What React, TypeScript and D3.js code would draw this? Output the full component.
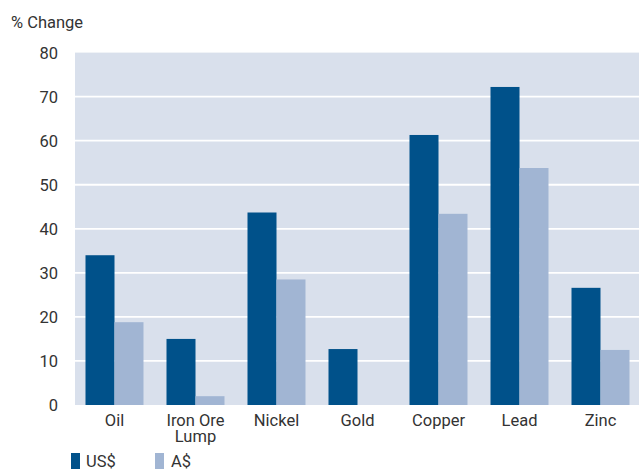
import React from "react";
import * as d3 from "d3";

const categories = ["Oil", "Iron Ore\nLump", "Nickel", "Gold", "Copper", "Lead", "Zinc"];
const usValues = [34.0, 15.0, 43.7, 12.7, 61.3, 72.2, 26.6];
const audValues = [18.8, 2.0, 28.5, 0, 43.4, 53.8, 12.5];
const yTicks = [0, 10, 20, 30, 40, 50, 60, 70, 80];
const seriesNames = ["US$", "A$"];

const W = 639;
const H = 469;
const DARK = "#00518a";
const LIGHT = "#a1b5d3";
const BG = "#d9e0ec";
const TEXT = "#333333";
const FONT = "Roboto, 'Noto Sans', sans-serif";

export default function App() {
  const x = d3.scaleBand<string>().domain(categories).range([74, 641]).paddingInner(0).paddingOuter(0);
  const y = d3.scaleLinear().domain([0, 80]).range([405, 52.6]);
  const bw = 29;
  const plotLeft = 75;
  const plotRight = 639;
  return (
    <svg width={W} height={H} style={{ position: "absolute", left: 0, top: 0 }} fontFamily={FONT}>
      <rect x={plotLeft} y={y(80)} width={plotRight - plotLeft} height={y(0) - y(80)} fill={BG} />
      {yTicks.filter((t) => t > 0 && t < 80).map((t) => (
        <line key={t} x1={plotLeft} x2={plotRight} y1={y(t)} y2={y(t)} stroke="#ffffff" strokeWidth={1.8} />
      ))}
      {categories.map((c, i) => {
        const cx = (x(c) as number) + x.bandwidth() / 2;
        return (
          <g key={c}>
            <rect x={cx - bw} y={y(usValues[i])} width={bw} height={y(0) - y(usValues[i])} fill={DARK} />
            {audValues[i] > 0 && (
              <rect x={cx} y={y(audValues[i])} width={bw} height={y(0) - y(audValues[i])} fill={LIGHT} />
            )}
            <text x={cx} y={426} textAnchor="middle" fontSize={16.5} fill={TEXT}>
              {c.split("\n").map((line, j) => (
                <tspan key={j} x={cx} dy={j === 0 ? 0 : 16}>{line}</tspan>
              ))}
            </text>
          </g>
        );
      })}
      {yTicks.map((t) => (
        <text key={t} x={58} y={y(t) + 6} textAnchor="end" fontSize={16.5} fill={TEXT}>{t}</text>
      ))}
      <text x={11} y={28} fontSize={16.5} fill={TEXT}>% Change</text>
      <rect x={71} y={453} width={9} height={16} fill={DARK} />
      <text x={86} y={467} fontSize={16.5} fill={TEXT}>{seriesNames[0]}</text>
      <rect x={155} y={453} width={9} height={16} fill={LIGHT} />
      <text x={171} y={467} fontSize={16.5} fill={TEXT}>{seriesNames[1]}</text>
    </svg>
  );
}
